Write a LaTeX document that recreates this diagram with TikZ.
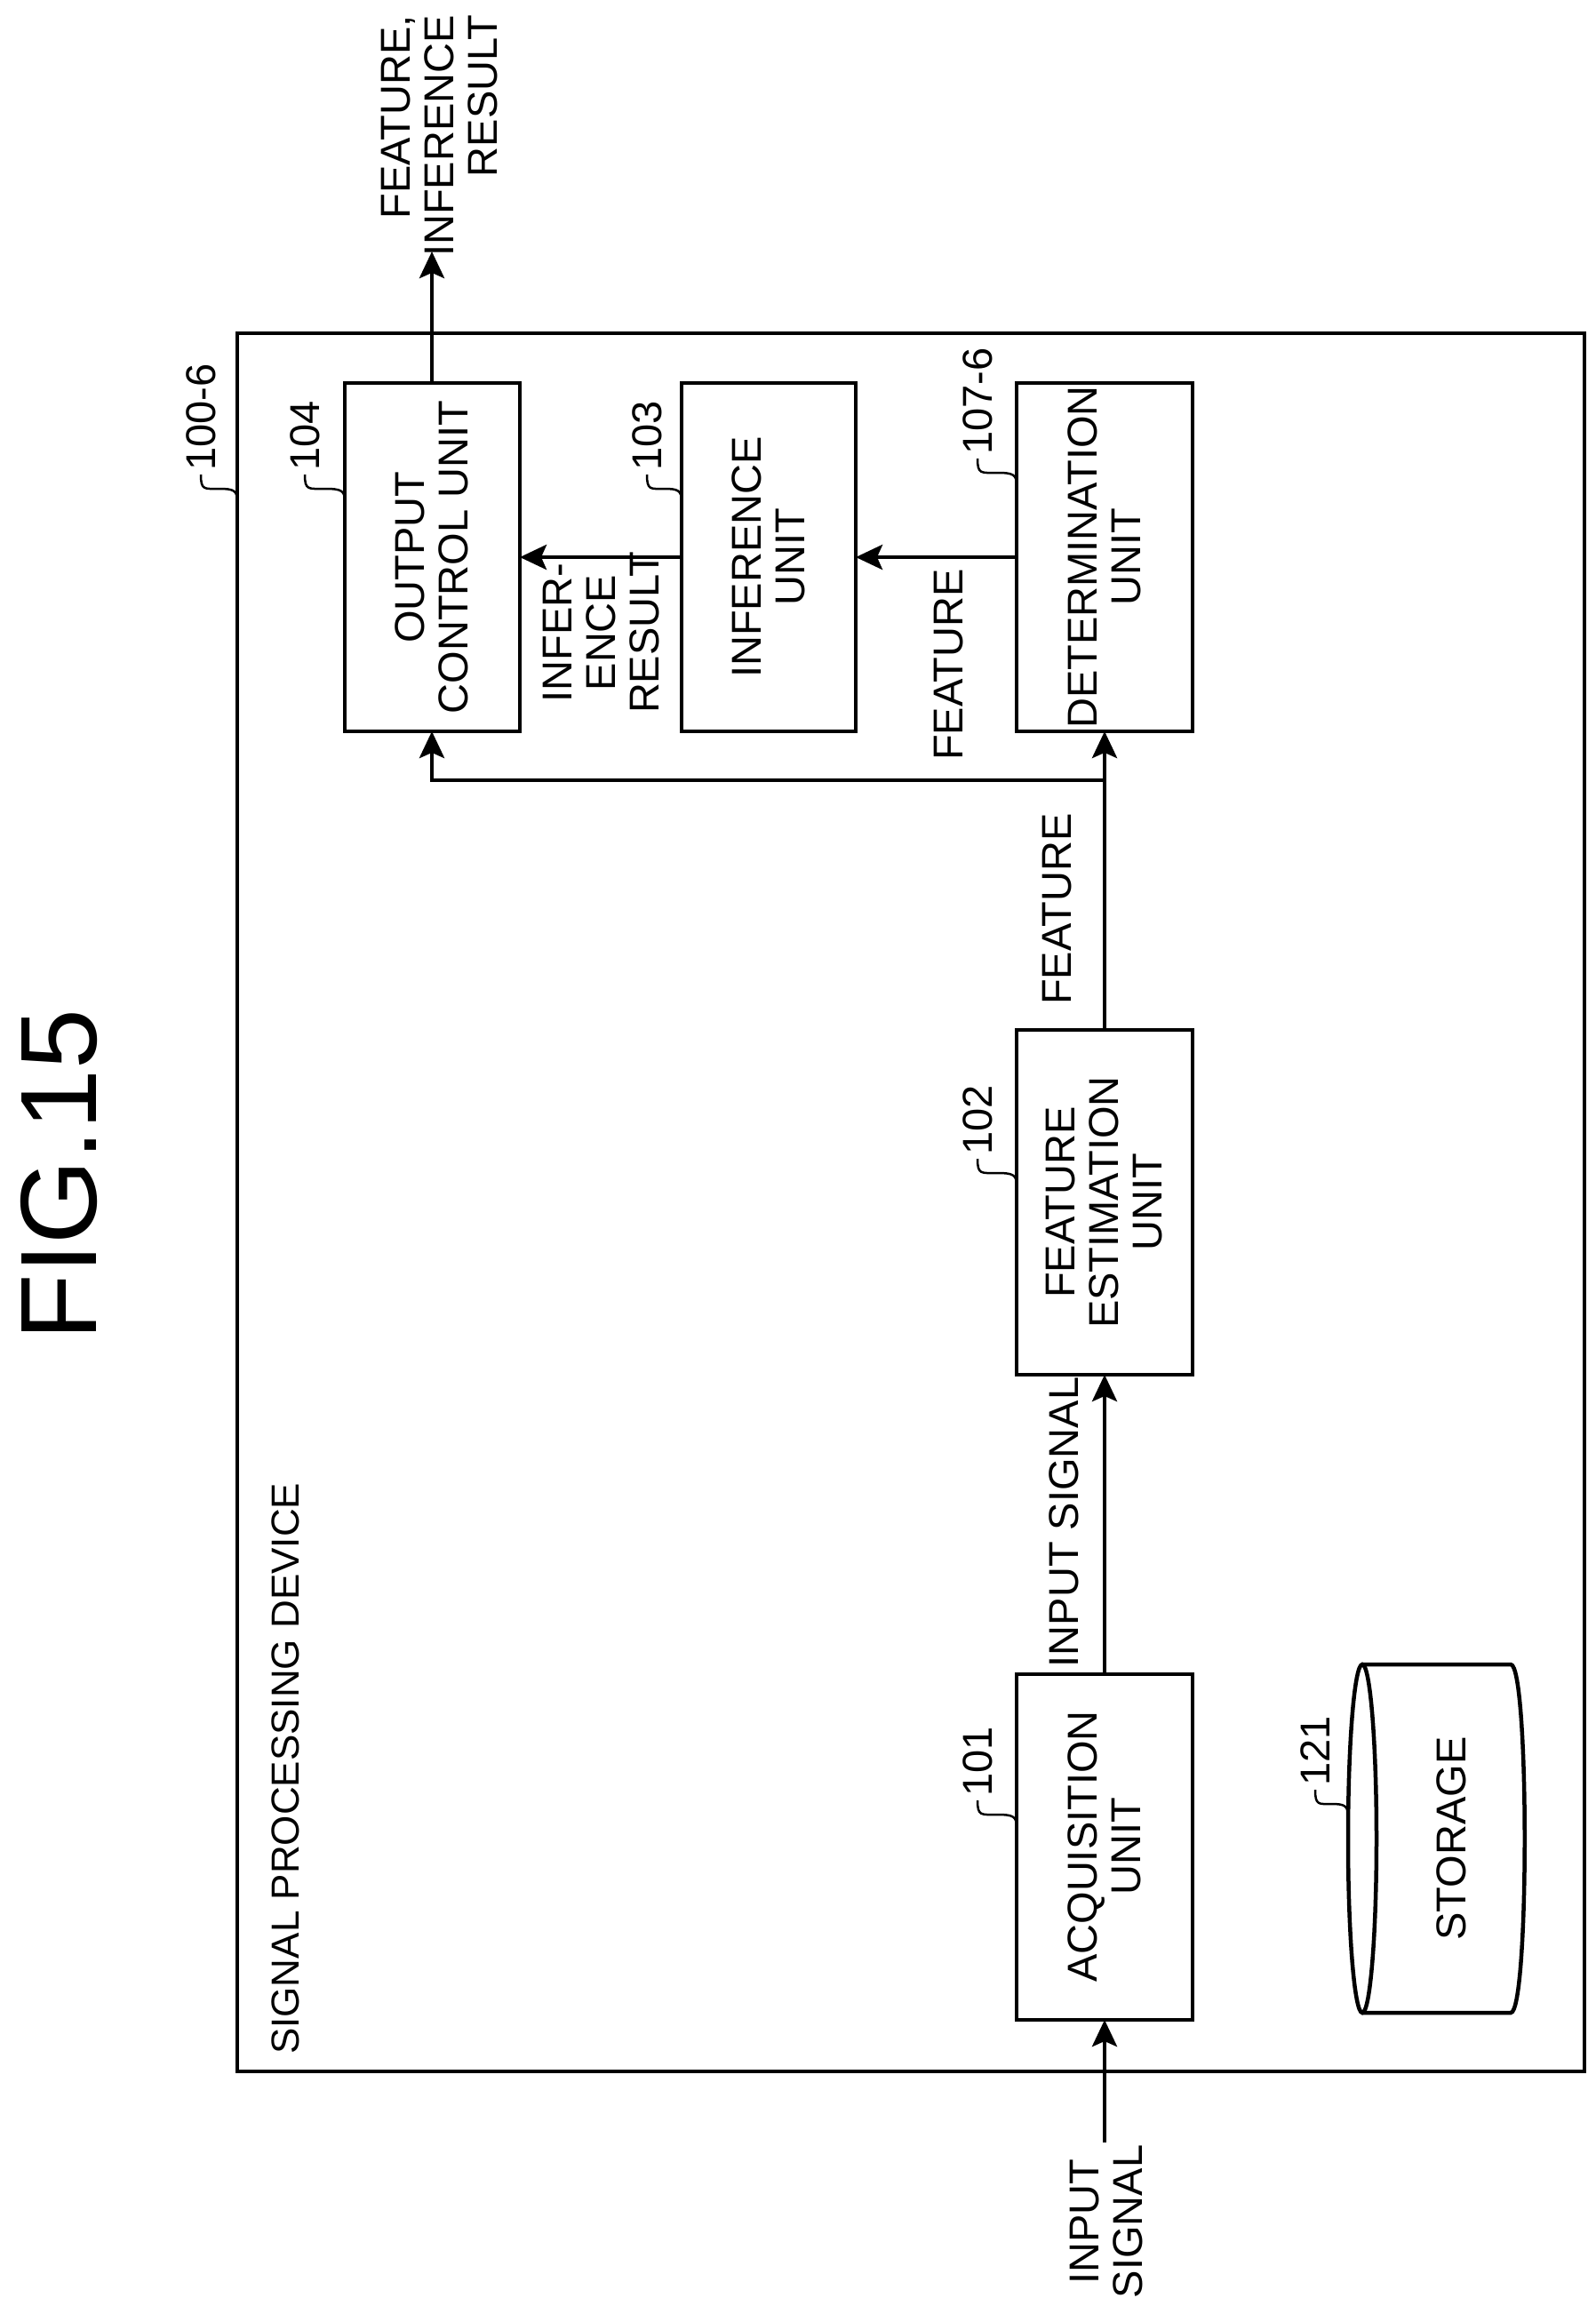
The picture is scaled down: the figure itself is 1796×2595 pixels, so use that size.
\documentclass[tikz,border=0pt]{standalone}
\usepackage{fontspec}
\setmainfont{Liberation Sans}
\usetikzlibrary{arrows.meta}
\begin{document}
\begin{tikzpicture}[x=1pt,y=-1pt,
  box/.style={draw,line width=4.5pt},
  ln/.style={line width=4.5pt},
  arr/.style={line width=4.5pt,-{Stealth[length=30pt,width=28pt,inset=6pt]}},
  txt/.style={rotate=90,align=center,font=\fontsize{47}{49}\selectfont,inner sep=0pt},
  ref/.style={rotate=90,anchor=west,font=\fontsize{47}{49}\selectfont,inner sep=0pt},
  lead/.style={line width=2.5pt}]
\useasboundingbox (0,0) rectangle (1796,2595);
\fill[white] (0,0) rectangle (1796,2595);
% outer
\draw[box] (267,375) rectangle (1783,2331);
\node[rotate=90,font=\fontsize{122}{130}\selectfont,inner sep=0pt] (fig) at (67,1322) {FIG.15};
\node[ref,font=\fontsize{44}{48}\selectfont] (spd) at (321,2312) {SIGNAL PROCESSING DEVICE};
% boxes
\draw[box] (388,431) rectangle (585,823); \node[txt] (oc) at (486,627) {OUTPUT\\CONTROL UNIT};
\draw[box] (767,431) rectangle (963,823); \node[txt] (inf) at (865,627) {INFERENCE\\UNIT};
\draw[box] (1144,431) rectangle (1342,823); \node[txt] (det) at (1243,627) {DETERMINATION\\UNIT};
\draw[box] (1144,1159) rectangle (1342,1547); \node[txt] (fe) at (1243,1353) {FEATURE\\ESTIMATION\\UNIT};
\draw[box] (1144,1884) rectangle (1342,2273); \node[txt] (acq) at (1243,2078) {ACQUISITION\\UNIT};
\coordinate (ocS) at (486,823); \coordinate (ocN) at (486,431);
\coordinate (infW) at (767,627); \coordinate (infE) at (963,627);
\coordinate (ocE) at (585,627); \coordinate (detW) at (1144,627);
\coordinate (detS) at (1243,823); \coordinate (feN) at (1243,1159);
\coordinate (feS) at (1243,1547); \coordinate (acqN) at (1243,1884);
\coordinate (acqS) at (1243,2273); \coordinate (inS) at (1243,2411);
\coordinate (outN) at (486,283); \coordinate (br) at (1243,878);
% storage
\draw[ln] (1533,2069) ellipse [x radius=16, y radius=196];
\draw[ln] (1533,1873) -- (1700,1873) .. controls (1721,1873) and (1721,2265) .. (1700,2265) -- (1533,2265);
\node[txt] (sto) at (1633,2069) {STORAGE};
% connectors
\draw[arr] (inS) -- (acqS);
\draw[arr] (acqN) -- (feS);
\draw[arr] (feN) -- (detS);
\draw[arr] (br) -- (486,878) -- (ocS);
\draw[arr] (detW) -- (infE);
\draw[arr] (infW) -- (ocE);
\draw[arr] (ocN) -- (outN);
% labels
\node[txt] (l1) at (1245,2500) {INPUT\\SIGNAL};
\node[txt] (l2) at (1197,1713) {INPUT SIGNAL};
\node[txt] (l3) at (1190,1023) {FEATURE};
\node[txt] (l4) at (1068,748) {FEATURE};
\node[txt] (l5) at (677,712) {INFER-\\ENCE\\RESULT};
\node[txt,align=right,anchor=east] (l6) at (495,17) {FEATURE,\\INFERENCE\\RESULT};
% reference numerals
\foreach \n/\tx/\sy/\ex in {100-6/226/530/267, 104/343/530/388, 103/728/530/767, 107-6/1100/512/1144, 102/1100/1300/1144, 101/1100/2022/1144, 121/1480/2010/1517}{
  \node[ref] at (\tx,\sy) {\n};
  \draw[lead] (\tx,\sy+4) .. controls (\tx,\sy+22) and (\tx+4,\sy+20) .. ({(\tx+\ex)/2},\sy+20) .. controls (\ex-4,\sy+20) and (\ex,\sy+22) .. (\ex,\sy+34);
}
\end{tikzpicture}
\end{document}
